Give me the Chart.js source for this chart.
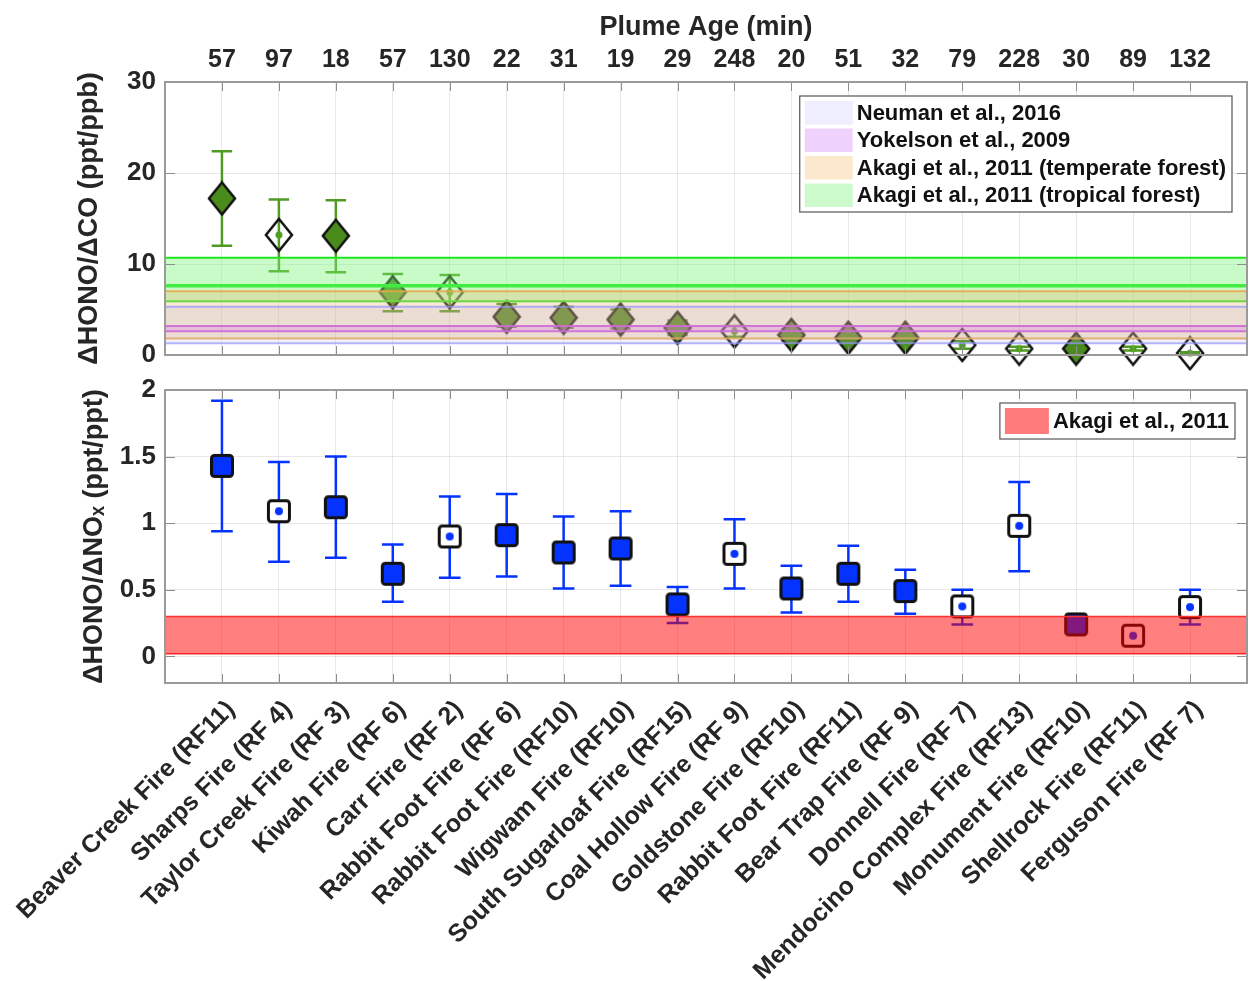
<!DOCTYPE html>
<html>
<head>
<meta charset="utf-8">
<script src="https://cdn.jsdelivr.net/npm/chart.js@4.4.1/dist/chart.umd.min.js"></script>
<style>
  html, body { margin: 0; padding: 0; background: #fff; }
  #wrap { position: relative; width: 1249px; height: 981px; }
  #topChart { position: absolute; left: 0; top: 0; }
  #bottomChart { position: absolute; left: 0; top: 372px; }
</style>
</head>
<body>
<div id="wrap">
  <canvas id="topChart" width="1249" height="372"></canvas>
  <canvas id="bottomChart" width="1249" height="609"></canvas>
</div>
<script>
// ---- data ----
var fires = ['Beaver Creek Fire (RF11)', 'Sharps Fire (RF 4)', 'Taylor Creek Fire (RF 3)',
  'Kiwah Fire (RF 6)', 'Carr Fire (RF 2)', 'Rabbit Foot Fire (RF 6)', 'Rabbit Foot Fire (RF10)',
  'Wigwam Fire (RF10)', 'South Sugarloaf Fire (RF15)', 'Coal Hollow Fire (RF 9)',
  'Goldstone Fire (RF10)', 'Rabbit Foot Fire (RF11)', 'Bear Trap Fire (RF 9)',
  'Donnell Fire (RF 7)', 'Mendocino Complex Fire (RF13)', 'Monument Fire (RF10)',
  'Shellrock Fire (RF11)', 'Ferguson Fire (RF 7)'];
var plumeAges = [57, 97, 18, 57, 130, 22, 31, 19, 29, 248, 20, 51, 32, 79, 228, 30, 89, 132];
// filled marker = true, open marker = false
var filled = [true, false, true, true, false, true, true, true, true, false,
  true, true, true, false, false, true, false, false];

// dHONO/dCO (ppt/ppb)
var honoCO     = [17.2, 13.2, 13.1, 6.9, 6.9, 4.2, 4.1, 3.9, 3.0, 2.6, 2.2, 1.9, 1.9, 1.1, 0.7, 0.7, 0.7, 0.2];
var honoCOLow  = [12.0, 9.2, 9.1, 4.8, 4.8, 3.1, 3.0, 2.9, 2.2, 2.0, 1.6, 1.4, 1.4, 0.7, 0.5, 0.4, 0.5, 0.1];
var honoCOHigh = [22.4, 17.1, 17.0, 8.9, 8.8, 5.6, 5.3, 5.0, 3.8, 3.2, 2.8, 2.4, 2.4, 1.5, 0.9, 1.0, 0.9, 0.3];
var coTicks = [0, 10, 20, 30];

// dHONO/dNOx (ppt/ppt)
var honoNOx     = [1.43, 1.09, 1.12, 0.62, 0.90, 0.91, 0.78, 0.81, 0.39, 0.77, 0.51, 0.62, 0.49, 0.375, 0.98, 0.24, 0.155, 0.37];
var honoNOxLow  = [0.94, 0.71, 0.74, 0.41, 0.59, 0.60, 0.51, 0.53, 0.25, 0.51, 0.33, 0.41, 0.32, 0.24, 0.64, 0.18, 0.13, 0.24];
var honoNOxHigh = [1.92, 1.46, 1.50, 0.84, 1.20, 1.22, 1.05, 1.09, 0.52, 1.03, 0.68, 0.83, 0.65, 0.50, 1.31, 0.31, 0.18, 0.50];
var noxTicks = [0, 0.5, 1, 1.5, 2];

// literature ranges
var coBandNames = ['Neuman et al., 2016', 'Yokelson et al., 2009',
  'Akagi et al., 2011 (temperate forest)', 'Akagi et al., 2011 (tropical forest)'];
var coBandLow  = [1.3, 2.6, 1.8, 5.9];
var coBandHigh = [5.3, 3.2, 7.0, 10.7];
var coBandMid  = [null, null, null, 7.6];

var noxBandNames = ['Akagi et al., 2011'];
var noxBandLow  = [0.02];
var noxBandHigh = [0.30];

// ---- styles ----
var FONT = "'Liberation Sans', Arial, Helvetica, sans-serif";
var TEXT = '#262626';
var GREEN = '#4a8c1c';
var GREEN_BAR = '#509c22';
var BLUE = '#0433ff';

var coBandFill   = ['rgba(170,160,215,0.16)', 'rgba(215,100,230,0.28)', 'rgba(235,180,110,0.30)', 'rgba(120,245,120,0.40)'];
var coBandLine   = ['rgba(150,150,255,0.7)', 'rgba(215,95,215,0.9)', 'rgba(235,165,70,0.85)', 'rgb(30,230,30)'];
var coSwatch     = ['#eeeeff', '#efd2fc', '#fce8cc', '#ccfacc'];
var noxBandFill  = ['rgba(255,0,0,0.5)'];
var noxBandLine  = ['rgb(255,50,50)'];
var noxSwatch    = ['#ff7b7b'];

Chart.defaults.font.family = FONT;
Chart.defaults.color = TEXT;

/* Builds a small canvas used as a point style */
function diamondMarker(fillColor, dotColor) {
  var c = document.createElement('canvas');
  c.width = 30; c.height = 36;
  var g = c.getContext('2d');
  g.beginPath();
  g.moveTo(15, 2); g.lineTo(28, 18); g.lineTo(15, 34); g.lineTo(2, 18);
  g.closePath();
  if (fillColor) { g.fillStyle = fillColor; g.fill(); }
  g.lineWidth = 2.5; g.strokeStyle = '#111'; g.stroke();
  if (dotColor) {
    g.beginPath(); g.arc(15, 18, 3.5, 0, 2 * Math.PI);
    g.fillStyle = dotColor; g.fill();
  }
  return c;
}

function squareMarker(fillColor, dotColor) {
  var c = document.createElement('canvas');
  c.width = 28; c.height = 28;
  var g = c.getContext('2d');
  g.beginPath();
  g.roundRect(3.5, 3.5, 21, 21, 3);
  g.fillStyle = fillColor || '#ffffff'; g.fill();
  g.lineWidth = 3; g.strokeStyle = '#111'; g.stroke();
  if (dotColor) {
    g.beginPath(); g.arc(14, 14, 4, 0, 2 * Math.PI);
    g.fillStyle = dotColor; g.fill();
  }
  return c;
}

/* error bars as one broken line: stem + two caps per point */
function errorBarData(low, high, cap) {
  var pts = [];
  for (var i = 0; i < low.length; i++) {
    var x = i + 1;
    pts.push({x: x, y: low[i]}, {x: x, y: high[i]}, {x: x, y: null});
    pts.push({x: x - cap, y: high[i]}, {x: x + cap, y: high[i]}, {x: x, y: null});
    pts.push({x: x - cap, y: low[i]}, {x: x + cap, y: low[i]}, {x: x, y: null});
  }
  return pts;
}

function markerData(values) {
  return values.map(function(v, i) { return {x: i + 1, y: v}; });
}

/* horizontal shaded ranges across the whole x range */
function bandDatasets(low, high, mid, fills, lines, lineWidth) {
  var sets = [];
  for (var i = 0; i < low.length; i++) {
    sets.push({
      data: [{x: 0, y: high[i]}, {x: 19, y: high[i]}],
      borderColor: lines[i], borderWidth: lineWidth, backgroundColor: fills[i],
      pointRadius: 0, fill: '+1', order: 1
    });
    sets.push({
      data: [{x: 0, y: low[i]}, {x: 19, y: low[i]}],
      borderColor: lines[i], borderWidth: lineWidth,
      pointRadius: 0, fill: false, order: 1
    });
    if (mid && mid[i] != null) {
      sets.push({
        data: [{x: 0, y: mid[i]}, {x: 19, y: mid[i]}],
        borderColor: lines[i], borderWidth: 3.5,
        pointRadius: 0, fill: false, order: 1
      });
    }
  }
  return sets;
}

// keep the plot box where the figure has it: no automatic label overflow padding
function noPadding(s) {
  s.paddingLeft = 0; s.paddingRight = 0; s.paddingTop = 0; s.paddingBottom = 0;
}

function fixedTicks(values) {
  return function(s) { s.ticks = values.map(function(v) { return {value: v}; }); };
}

// box around the axes plus inward tick marks (MATLAB look)
var framePlugin = {
  id: 'frame',
  afterDatasetsDraw: function(chart) {
    var ctx = chart.ctx, a = chart.chartArea;
    var xs = chart.scales.x, ys = chart.scales.y;
    ctx.save();
    ctx.strokeStyle = '#8c8c8c';
    ctx.lineWidth = 1;
    xs.ticks.forEach(function(t) {
      if (t.value <= 0 || t.value >= 19) return;
      var px = Math.round(xs.getPixelForValue(t.value)) + 0.5;
      ctx.beginPath();
      ctx.moveTo(px, a.top); ctx.lineTo(px, a.top + 9);
      ctx.moveTo(px, a.bottom); ctx.lineTo(px, a.bottom - 9);
      ctx.stroke();
    });
    ys.ticks.forEach(function(t) {
      var py = Math.round(ys.getPixelForValue(t.value)) + 0.5;
      ctx.beginPath();
      ctx.moveTo(a.left, py); ctx.lineTo(a.left + 10, py);
      ctx.moveTo(a.right, py); ctx.lineTo(a.right - 10, py);
      ctx.stroke();
    });
    ctx.strokeStyle = '#9a9a9a';
    ctx.lineWidth = 2;
    ctx.strokeRect(a.left, a.top, a.right - a.left, a.bottom - a.top);
    ctx.restore();
  }
};

// legend drawn inside the plot, in a box at the top right
var boxLegendPlugin = {
  id: 'boxLegend',
  afterDraw: function(chart, args, opts) {
    var ctx = chart.ctx, a = chart.chartArea;
    ctx.save();
    ctx.font = 'bold ' + opts.fontSize + 'px ' + FONT;
    var textW = 0;
    opts.names.forEach(function(n) { textW = Math.max(textW, ctx.measureText(n).width); });
    var w = 6 + opts.swatchW + 3 + textW + 6;
    var h = opts.names.length * opts.rowH + 6;
    var x0 = a.right - opts.right - w;
    var y0 = a.top + opts.top;
    ctx.fillStyle = '#ffffff';
    ctx.fillRect(x0, y0, w, h);
    ctx.strokeStyle = '#555';
    ctx.lineWidth = 1.2;
    ctx.strokeRect(x0, y0, w, h);
    opts.names.forEach(function(n, i) {
      var ry = y0 + 3 + i * opts.rowH;
      ctx.fillStyle = opts.swatches[i];
      ctx.fillRect(x0 + 5, ry + 2, opts.swatchW, opts.rowH - 4);
      ctx.fillStyle = '#111';
      ctx.textBaseline = 'middle';
      ctx.textAlign = 'left';
      ctx.fillText(n, x0 + 6 + opts.swatchW + 3, ry + opts.rowH / 2 + 1);
    });
    ctx.restore();
  }
};

var gridColor = 'rgba(0,0,0,0.09)';

// ---- top panel: dHONO/dCO ----
var topSets = [
  {
    data: errorBarData(honoCOLow, honoCOHigh, 0.18),
    borderColor: GREEN_BAR, borderWidth: 2.5, pointRadius: 0,
    showLine: true, spanGaps: false, fill: false, order: 5
  },
  {
    data: markerData(honoCO),
    showLine: false, pointRadius: 14, clip: false, order: 4,
    pointStyle: filled.map(function(f) { return f ? diamondMarker(GREEN, null) : diamondMarker(null, GREEN_BAR); })
  }
].concat(bandDatasets(coBandLow, coBandHigh, coBandMid, coBandFill, coBandLine, 2));

new Chart(document.getElementById('topChart'), {
  type: 'line',
  data: { datasets: topSets },
  plugins: [framePlugin, boxLegendPlugin],
  options: {
    responsive: false,
    animation: false,
    events: [],
    layout: { autoPadding: false, padding: { left: 0, right: 2, top: 0, bottom: 17 } },
    plugins: {
      legend: { display: false },
      tooltip: { enabled: false },
      boxLegend: { names: coBandNames, swatches: coSwatch, fontSize: 22, swatchW: 48, rowH: 27.5, right: 15, top: 14 }
    },
    scales: {
      x: {
        type: 'linear', position: 'top', min: 0, max: 19,
        afterFit: function(s) { s.height = 82; noPadding(s); },
        grid: { color: gridColor, drawTicks: false },
        border: { display: false },
        ticks: {
          stepSize: 1, autoSkip: false, maxRotation: 0, padding: 7,
          font: { size: 25, weight: 'bold' }, color: TEXT,
          callback: function(v) { return (v >= 1 && v <= 18) ? String(plumeAges[v - 1]) : ''; }
        },
        title: {
          display: true, text: 'Plume Age (min)', color: TEXT,
          font: { size: 27, weight: 'bold' }, padding: { top: 11, bottom: 0 }
        }
      },
      y: {
        min: 0, max: 30,
        afterBuildTicks: fixedTicks(coTicks),
        afterFit: function(s) { s.width = 165; noPadding(s); },
        grid: { color: gridColor, drawTicks: false },
        border: { display: false },
        ticks: { padding: 9, font: { size: 26, weight: 'bold' }, color: TEXT,
          callback: function(v) { return String(v); } },
        title: {
          display: true, text: 'ΔHONO/ΔCO (ppt/ppb)', color: TEXT,
          font: { size: 27, weight: 'bold' }, padding: { top: 73, bottom: 0 }
        }
      }
    }
  }
});

// ---- bottom panel: dHONO/dNOx ----
var bottomSets = [
  {
    data: errorBarData(honoNOxLow, honoNOxHigh, 0.19),
    borderColor: BLUE, borderWidth: 2.5, pointRadius: 0,
    showLine: true, spanGaps: false, fill: false, order: 5
  },
  {
    data: markerData(honoNOx),
    showLine: false, pointRadius: 14, clip: false, order: 4,
    pointStyle: filled.map(function(f) { return f ? squareMarker(BLUE, null) : squareMarker(null, BLUE); })
  }
].concat(bandDatasets(noxBandLow, noxBandHigh, null, noxBandFill, noxBandLine, 1.5));

new Chart(document.getElementById('bottomChart'), {
  type: 'line',
  data: { datasets: bottomSets },
  plugins: [framePlugin, boxLegendPlugin],
  options: {
    responsive: false,
    animation: false,
    events: [],
    layout: { autoPadding: false, padding: { left: 0, right: 2, top: 18, bottom: 0 } },
    plugins: {
      legend: { display: false },
      tooltip: { enabled: false },
      boxLegend: { names: noxBandNames, swatches: noxSwatch, fontSize: 22, swatchW: 44, rowH: 30, right: 12, top: 13 }
    },
    scales: {
      x: {
        type: 'linear', position: 'bottom', min: 0, max: 19,
        afterFit: function(s) { s.height = 298; noPadding(s); },
        grid: { color: gridColor, drawTicks: false },
        border: { display: false },
        ticks: {
          stepSize: 1, autoSkip: false, minRotation: 45, maxRotation: 45,
          padding: 12, labelOffset: 9,
          font: { size: 25, weight: 'bold' }, color: TEXT,
          callback: function(v) { return (v >= 1 && v <= 18) ? fires[v - 1] : ''; }
        }
      },
      y: {
        min: -0.2, max: 2,
        afterBuildTicks: fixedTicks(noxTicks),
        afterFit: function(s) { s.width = 165; noPadding(s); },
        grid: { color: gridColor, drawTicks: false },
        border: { display: false },
        ticks: {
          padding: 9, font: { size: 26, weight: 'bold' }, color: TEXT,
          callback: function(v) { return String(v); }
        },
        title: {
          display: true, text: 'ΔHONO/ΔNOₓ (ppt/ppt)', color: TEXT,
          font: { size: 27, weight: 'bold' }, padding: { top: 78, bottom: 0 }
        }
      }
    }
  }
});
</script>
</body>
</html>
